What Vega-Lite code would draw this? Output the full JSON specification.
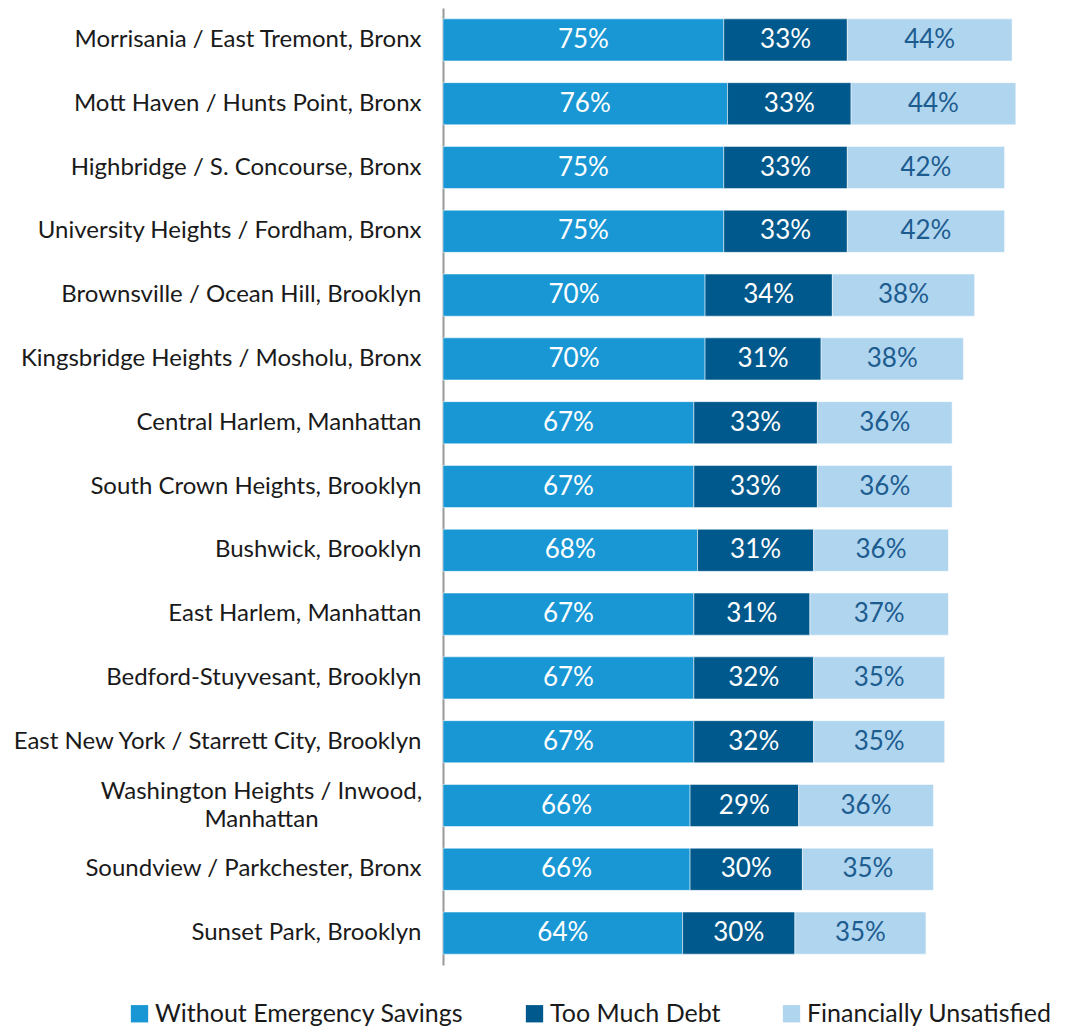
{
  "$schema": "https://vega.github.io/schema/vega-lite/v6.json",
  "autosize": "none",
  "width": 599,
  "height": 957,
  "padding": {"left": 443, "top": 8, "right": 27, "bottom": 61},
  "background": "white",
  "config": {"font": "Lato", "view": {"stroke": null}},
  "data": {"values": [
    {"area": "Morrisania / East Tremont, Bronx", "category": "Without Emergency Savings", "value": 75},
    {"area": "Morrisania / East Tremont, Bronx", "category": "Too Much Debt", "value": 33},
    {"area": "Morrisania / East Tremont, Bronx", "category": "Financially Unsatisfied", "value": 44},
    {"area": "Mott Haven / Hunts Point, Bronx", "category": "Without Emergency Savings", "value": 76},
    {"area": "Mott Haven / Hunts Point, Bronx", "category": "Too Much Debt", "value": 33},
    {"area": "Mott Haven / Hunts Point, Bronx", "category": "Financially Unsatisfied", "value": 44},
    {"area": "Highbridge / S. Concourse, Bronx", "category": "Without Emergency Savings", "value": 75},
    {"area": "Highbridge / S. Concourse, Bronx", "category": "Too Much Debt", "value": 33},
    {"area": "Highbridge / S. Concourse, Bronx", "category": "Financially Unsatisfied", "value": 42},
    {"area": "University Heights / Fordham, Bronx", "category": "Without Emergency Savings", "value": 75},
    {"area": "University Heights / Fordham, Bronx", "category": "Too Much Debt", "value": 33},
    {"area": "University Heights / Fordham, Bronx", "category": "Financially Unsatisfied", "value": 42},
    {"area": "Brownsville / Ocean Hill, Brooklyn", "category": "Without Emergency Savings", "value": 70},
    {"area": "Brownsville / Ocean Hill, Brooklyn", "category": "Too Much Debt", "value": 34},
    {"area": "Brownsville / Ocean Hill, Brooklyn", "category": "Financially Unsatisfied", "value": 38},
    {"area": "Kingsbridge Heights / Mosholu, Bronx", "category": "Without Emergency Savings", "value": 70},
    {"area": "Kingsbridge Heights / Mosholu, Bronx", "category": "Too Much Debt", "value": 31},
    {"area": "Kingsbridge Heights / Mosholu, Bronx", "category": "Financially Unsatisfied", "value": 38},
    {"area": "Central Harlem, Manhattan", "category": "Without Emergency Savings", "value": 67},
    {"area": "Central Harlem, Manhattan", "category": "Too Much Debt", "value": 33},
    {"area": "Central Harlem, Manhattan", "category": "Financially Unsatisfied", "value": 36},
    {"area": "South Crown Heights, Brooklyn", "category": "Without Emergency Savings", "value": 67},
    {"area": "South Crown Heights, Brooklyn", "category": "Too Much Debt", "value": 33},
    {"area": "South Crown Heights, Brooklyn", "category": "Financially Unsatisfied", "value": 36},
    {"area": "Bushwick, Brooklyn", "category": "Without Emergency Savings", "value": 68},
    {"area": "Bushwick, Brooklyn", "category": "Too Much Debt", "value": 31},
    {"area": "Bushwick, Brooklyn", "category": "Financially Unsatisfied", "value": 36},
    {"area": "East Harlem, Manhattan", "category": "Without Emergency Savings", "value": 67},
    {"area": "East Harlem, Manhattan", "category": "Too Much Debt", "value": 31},
    {"area": "East Harlem, Manhattan", "category": "Financially Unsatisfied", "value": 37},
    {"area": "Bedford-Stuyvesant, Brooklyn", "category": "Without Emergency Savings", "value": 67},
    {"area": "Bedford-Stuyvesant, Brooklyn", "category": "Too Much Debt", "value": 32},
    {"area": "Bedford-Stuyvesant, Brooklyn", "category": "Financially Unsatisfied", "value": 35},
    {"area": "East New York / Starrett City, Brooklyn", "category": "Without Emergency Savings", "value": 67},
    {"area": "East New York / Starrett City, Brooklyn", "category": "Too Much Debt", "value": 32},
    {"area": "East New York / Starrett City, Brooklyn", "category": "Financially Unsatisfied", "value": 35},
    {"area": "Washington Heights / Inwood, Manhattan", "category": "Without Emergency Savings", "value": 66},
    {"area": "Washington Heights / Inwood, Manhattan", "category": "Too Much Debt", "value": 29},
    {"area": "Washington Heights / Inwood, Manhattan", "category": "Financially Unsatisfied", "value": 36},
    {"area": "Soundview / Parkchester, Bronx", "category": "Without Emergency Savings", "value": 66},
    {"area": "Soundview / Parkchester, Bronx", "category": "Too Much Debt", "value": 30},
    {"area": "Soundview / Parkchester, Bronx", "category": "Financially Unsatisfied", "value": 35},
    {"area": "Sunset Park, Brooklyn", "category": "Without Emergency Savings", "value": 64},
    {"area": "Sunset Park, Brooklyn", "category": "Too Much Debt", "value": 30},
    {"area": "Sunset Park, Brooklyn", "category": "Financially Unsatisfied", "value": 35}
  ]},
  "transform": [
    {"stack": "value", "groupby": ["area"], "sort": [{"field": "category", "order": "descending"}], "as": ["x0", "x1"]},
    {"calculate": "(datum.x0 + datum.x1) / 2", "as": "mid"},
    {"calculate": "datum.value + '%'", "as": "label"}
  ],
  "encoding": {
    "y": {
      "field": "area", "type": "nominal", "sort": null, "title": null,
      "scale": {"paddingInner": 0.34, "paddingOuter": 0.17},
      "axis": {
        "ticks": false, "grid": false, "domainColor": "#999999", "domainWidth": 2,
        "labelFont": "Lato", "labelFontSize": 24, "labelColor": "#1a1a1a",
        "labelLimit": 500, "labelLineHeight": 28,
        "labelPadding": {"condition": {"test": "datum.value == 'Washington Heights / Inwood, Manhattan'", "value": 182}, "value": 22},
        "labelAlign": {"condition": {"test": "datum.value == 'Washington Heights / Inwood, Manhattan'", "value": "center"}, "value": "right"},
        "labelOffset": {"condition": {"test": "datum.value == 'Washington Heights / Inwood, Manhattan'", "value": -14}, "value": 0},
        "labelExpr": "datum.label == 'Washington Heights / Inwood, Manhattan' ? ['Washington Heights / Inwood,', 'Manhattan'] : datum.label"
      }
    }
  },
  "layer": [
    {
      "mark": {"type": "bar", "stroke": "white", "strokeWidth": 0.5},
      "encoding": {
        "x": {"field": "x0", "type": "quantitative", "scale": {"domain": [0, 160]}, "axis": null},
        "x2": {"field": "x1"},
        "color": {
          "field": "category", "type": "nominal",
          "scale": {"domain": ["Without Emergency Savings", "Too Much Debt", "Financially Unsatisfied"], "range": ["#1897d4", "#00598c", "#b0d5ef"]},
          "legend": {
            "title": null, "orient": "none", "direction": "horizontal", "legendX": -316, "legendY": 993,
            "symbolType": "square", "symbolSize": 300, "symbolStrokeWidth": 0, "symbolOpacity": 1,
            "labelFont": "Lato", "labelFontSize": 25, "labelColor": "#1a1a1a", "labelOffset": 3,
            "columnPadding": 58, "labelLimit": 400
          }
        }
      }
    },
    {
      "mark": {"type": "text", "font": "Lato", "fontSize": 26, "align": "center", "baseline": "middle"},
      "encoding": {
        "x": {"field": "mid", "type": "quantitative"},
        "text": {"field": "label", "type": "nominal"},
        "color": {"condition": {"test": "datum.category == 'Financially Unsatisfied'", "value": "#1d5c8f"}, "value": "white"}
      }
    }
  ]
}
